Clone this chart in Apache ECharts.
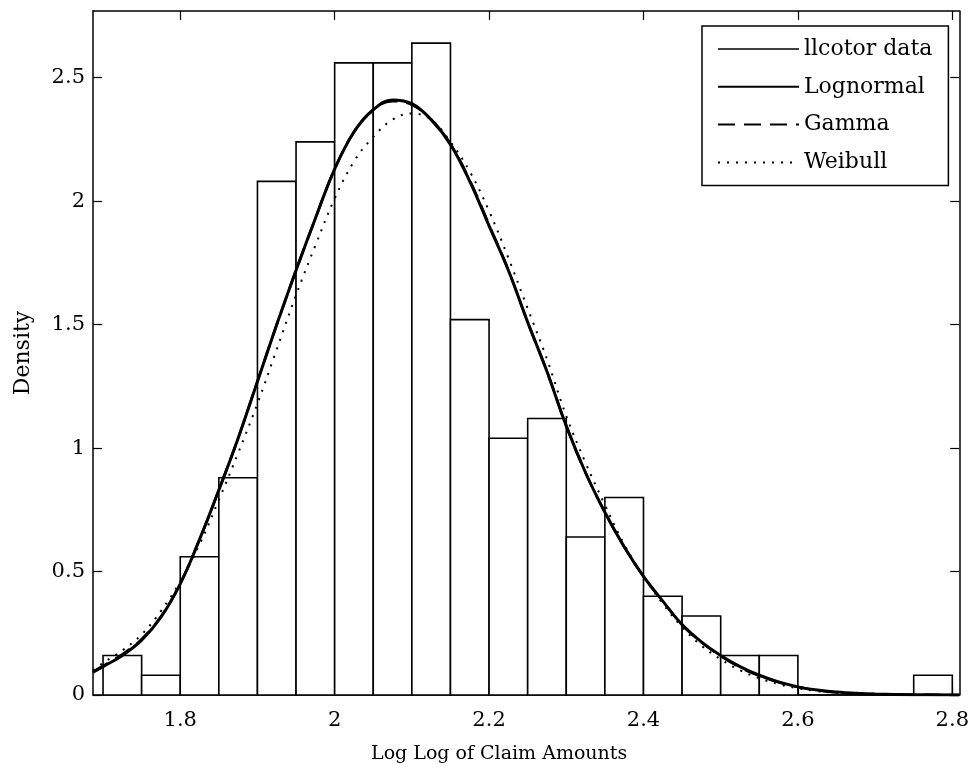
<!DOCTYPE html>
<html>
<head>
<meta charset="utf-8">
<script src="https://cdn.jsdelivr.net/npm/echarts@6/dist/echarts.min.js"></script>
<style>html,body{margin:0;padding:0;background:#fff}#c{width:972px;height:770px}</style>
</head>
<body>
<div id="c"></div>
<script>
// Histogram bins (density, bin width 0.05)
var binEdges = [1.70,1.75,1.80,1.85,1.90,1.95,2.00,2.05,2.10,2.15,2.20,2.25,2.30,2.35,2.40,2.45,2.50,2.55,2.60,2.65,2.70,2.75,2.80];
var binDensity = [0.16,0.08,0.56,0.88,2.08,2.24,2.56,2.56,2.64,1.52,1.04,1.12,0.64,0.80,0.40,0.32,0.16,0.16,0,0,0,0.08];

// Fitted curves
var curveX = [1.687,1.70,1.725,1.75,1.775,1.80,1.825,1.85,1.875,1.90,1.925,1.95,1.975,2.00,2.025,2.05,2.075,2.10,2.125,2.15,2.175,2.20,2.225,2.25,2.275,2.30,2.325,2.35,2.375,2.40,2.425,2.45,2.475,2.50,2.525,2.55,2.575,2.60,2.625,2.65,2.675,2.70,2.75,2.809];
var lognormalY = [0.092,0.115,0.16,0.222,0.315,0.45,0.63,0.83,1.04,1.27,1.50,1.72,1.93,2.13,2.28,2.37,2.41,2.395,2.33,2.23,2.08,1.90,1.72,1.51,1.31,1.09,0.90,0.74,0.60,0.48,0.38,0.285,0.215,0.16,0.115,0.08,0.053,0.033,0.02,0.012,0.007,0.004,0.0015,0.0004];
var gammaY = [0.095,0.118,0.165,0.226,0.318,0.452,0.63,0.83,1.04,1.27,1.50,1.72,1.93,2.13,2.28,2.37,2.405,2.39,2.33,2.23,2.085,1.905,1.72,1.51,1.31,1.09,0.90,0.74,0.60,0.48,0.38,0.285,0.213,0.158,0.112,0.078,0.051,0.032,0.019,0.011,0.006,0.0035,0.001,0.0002];
var weibullY = [0.10,0.13,0.18,0.245,0.34,0.46,0.61,0.79,0.98,1.18,1.40,1.62,1.82,2.01,2.16,2.26,2.33,2.355,2.33,2.24,2.12,1.96,1.77,1.565,1.36,1.13,0.94,0.77,0.61,0.48,0.37,0.275,0.20,0.145,0.10,0.068,0.044,0.027,0.016,0.009,0.005,0.0025,0.0005,0.0001];

var xTicks = [1.8,2.0,2.2,2.4,2.6,2.8];
var yTicks = [0,0.5,1,1.5,2,2.5];

function pairs(xs, ys){ return xs.map(function(x,i){ return [x, ys[i]]; }); }
var histData = binDensity.map(function(d,i){ return [binEdges[i], binEdges[i+1], d]; });

var FONT = 'DejaVu Serif';
var chart = echarts.init(document.getElementById('c'), null, {renderer:'canvas'});
var axisCommon = {
  type:'value', min:1.687, max:2.809,
  axisLine:{show:true, onZero:false, lineStyle:{color:'#000', width:1.5}},
  splitLine:{show:false}
};
chart.setOption({
  animation:false,
  backgroundColor:'#fff',
  grid:{left:93, right:11, top:11, bottom:75},
  xAxis:[
    Object.assign({}, axisCommon, {
      position:'bottom',
      axisTick:{inside:true, length:9, lineStyle:{color:'#000', width:1.2}, customValues:xTicks},
      axisLabel:{customValues:xTicks, color:'#000', fontFamily:FONT, fontSize:21, margin:15},
      name:'Log Log of Claim Amounts', nameLocation:'middle', nameGap:50,
      nameTextStyle:{color:'#000', fontFamily:FONT, fontSize:19, padding:[0,54,0,0]}
    }),
    Object.assign({}, axisCommon, {
      position:'top',
      axisTick:{inside:true, length:9, lineStyle:{color:'#000', width:1.2}, customValues:xTicks},
      axisLabel:{show:false}
    })
  ],
  yAxis:[
    {type:'value', min:0, max:2.77, position:'left',
     axisLine:{show:true, lineStyle:{color:'#000', width:1.5}},
     axisTick:{show:true, inside:true, length:9, lineStyle:{color:'#000', width:1.2}, customValues:yTicks},
     axisLabel:{customValues:yTicks, color:'#000', fontFamily:FONT, fontSize:21, margin:8},
     splitLine:{show:false},
     name:'Density', nameLocation:'middle', nameGap:59,
     nameTextStyle:{color:'#000', fontFamily:FONT, fontSize:22}},
    {type:'value', min:0, max:2.77, position:'right',
     axisLine:{show:true, lineStyle:{color:'#000', width:1.5}},
     axisTick:{show:true, inside:true, length:9, lineStyle:{color:'#000', width:1.2}, customValues:yTicks},
     axisLabel:{show:false}, splitLine:{show:false}}
  ],
  legend:{
    data:[
      {name:'llcotor data', icon:'path://M0 0H81V1.6H0Z', itemStyle:{opacity:1, color:'#000'}},
      {name:'Lognormal'},{name:'Gamma'},{name:'Weibull'}
    ],
    orient:'vertical', left:702, top:26,
    padding:[12,16,12,15], itemGap:15.8, itemWidth:81, itemHeight:14,
    borderColor:'#000', borderWidth:1.5, backgroundColor:'#fff',
    textStyle:{color:'#000', fontFamily:FONT, fontSize:22, lineHeight:22},
    selectedMode:false
  },
  series:[
    {name:'llcotor data', type:'custom', xAxisIndex:0, yAxisIndex:0,
     itemStyle:{color:'#000'},
     data:histData,
     encode:{x:[0,1], y:2},
     renderItem:function(params, api){
       var p0 = api.coord([api.value(0), 0]);
       var p1 = api.coord([api.value(1), api.value(2)]);
       return {type:'rect',
         shape:{x:p0[0], y:p1[1], width:p1[0]-p0[0], height:p0[1]-p1[1]},
         style:{fill:'#fff', stroke:'#000', lineWidth:1.6}};
     }},
    {name:'Lognormal', type:'line', data:pairs(curveX, lognormalY), symbol:'none', smooth:0.4,
     lineStyle:{color:'#000', width:3}, itemStyle:{color:'#000', opacity:0}, z:3},
    {name:'Gamma', type:'line', data:pairs(curveX, gammaY), symbol:'none', smooth:0.4,
     lineStyle:{color:'#000', width:2.5, type:[17,9]}, itemStyle:{color:'#000', opacity:0}, z:4},
    {name:'Weibull', type:'line', data:pairs(curveX, weibullY), symbol:'none', smooth:0.4,
     lineStyle:{color:'#000', width:2, type:[2,7]}, itemStyle:{color:'#000', opacity:0}, z:5}
  ]
});
</script>
</body>
</html>
